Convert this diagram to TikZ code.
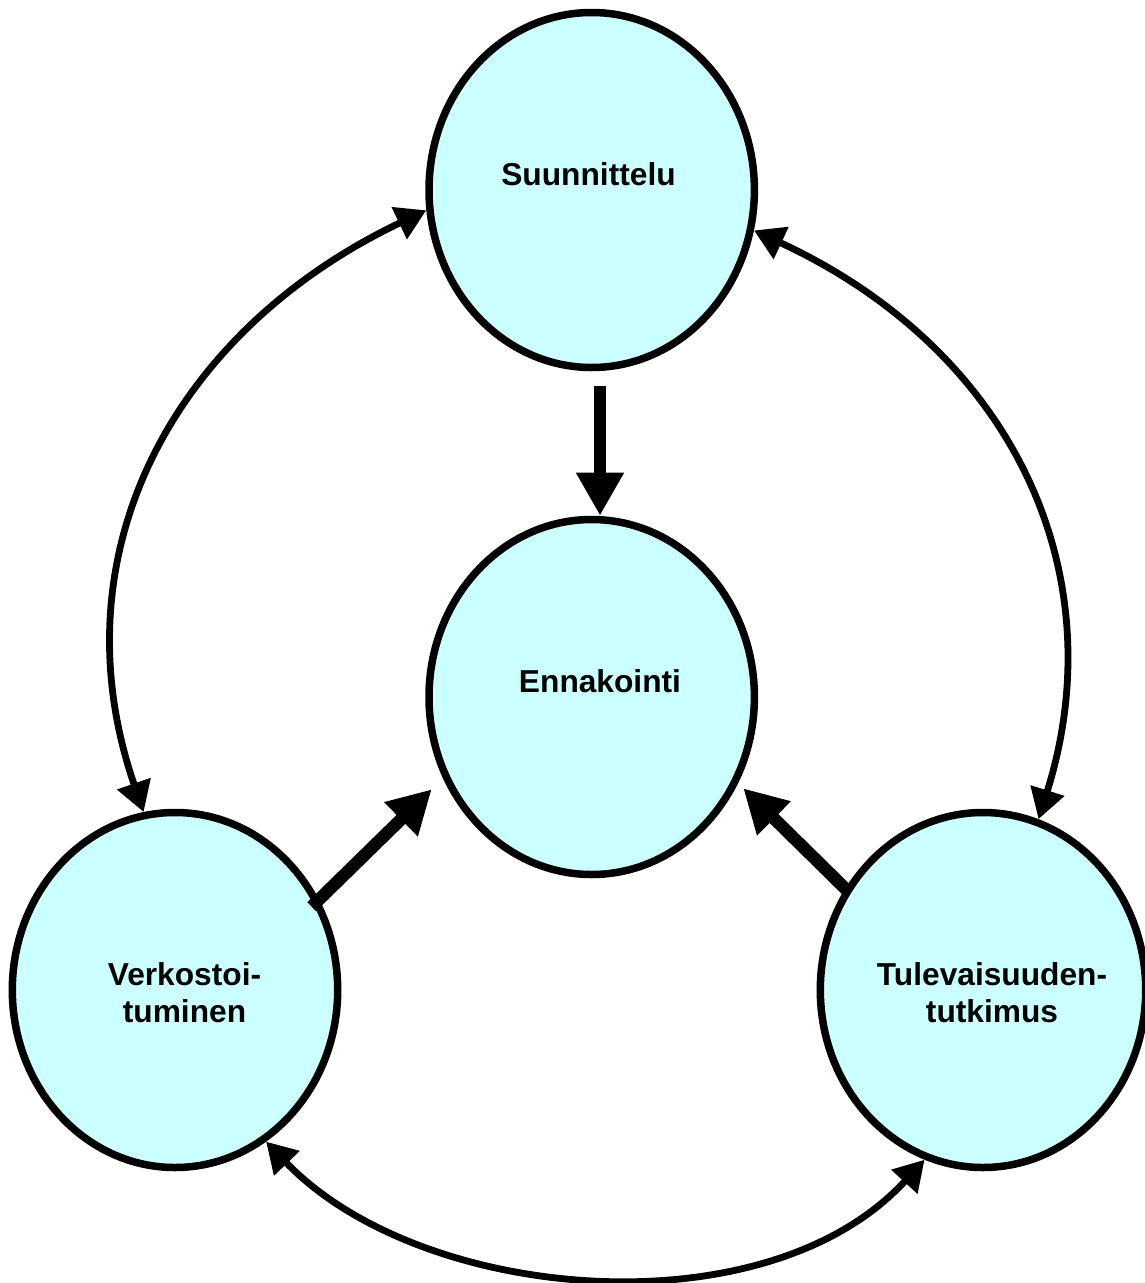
\documentclass[tikz,border=0pt]{standalone}
\usepackage{fontspec}
\setmainfont{Liberation Sans}
\usetikzlibrary{shapes.geometric,arrows.meta,calc}
\definecolor{bubblefill}{RGB}{204,255,255}

\begin{document}
\begin{tikzpicture}[x=1pt,y=-1pt,
  bubble/.style={ellipse,draw=black,line width=7.5pt,fill=bubblefill,
    minimum width=325.4pt,minimum height=355pt,inner sep=0pt},
  bubbletext/.style={font=\fontsize{31.7}{37.7}\selectfont\bfseries,
    align=center,anchor=base,inner sep=0pt},
  flow/.style={line width=6.8pt,
    {Triangle[length=30pt,width=34pt]}-{Triangle[length=30pt,width=34pt]}},
  thrust/.style={line width=12.5pt,-{Triangle[length=43pt,width=45pt]}},
]
\useasboundingbox (0,0) rectangle (1145,1283);

% the four circles
\node[bubble] (suun) at (591.7,190) {};
\node[bubble] (enn)  at (591.7,697) {};
\node[bubble] (verk) at (175,990) {};
\node[bubble] (tul)  at (983,990) {};

% their captions (base anchor sits on the last line)
\node[bubbletext] (suunT) at (588.5,185.7) {Suunnittelu};
\node[bubbletext] (ennT)  at (600,692.7) {Ennakointi};
\node[bubbletext] (verkT) at (184.5,1022.7) {Verkostoi-\\tuminen};
\node[bubbletext] (tulT)  at (992,1022.7) {Tulevaisuuden-\\tutkimus};

% ends of the straight arrows towards the centre
\coordinate (s-tail) at ($(suun.center)+(8.3,196)$);
\coordinate (s-tip)  at ($(enn.center)+(8.3,-181.3)$);
\coordinate (v-tail) at ($(verk.center)+(136.7,-83.3)$);
\coordinate (v-tip)  at ($(enn.center)+(-160,92.3)$);
\coordinate (t-tail) at ($(tul.center)+(-136.3,-100)$);
\coordinate (t-tip)  at ($(enn.center)+(151.6,91.3)$);

\draw[thrust] (s-tail) -- (s-tip);
\draw[thrust] (v-tail) -- (v-tip);
\draw[thrust] (t-tail) -- (t-tip);

% outer two-way arcs
\draw[flow] (suun.187.5) .. controls (175,330) and (54,552) .. (verk.100.3);
\draw[flow] (suun.346.6) .. controls (1012,350) and (1116,572) .. (tul.72);
\draw[flow] (verk.301) .. controls (420.7,1302.8) and (766.2,1332.5) .. (tul.251.7);
\end{tikzpicture}
\end{document}
